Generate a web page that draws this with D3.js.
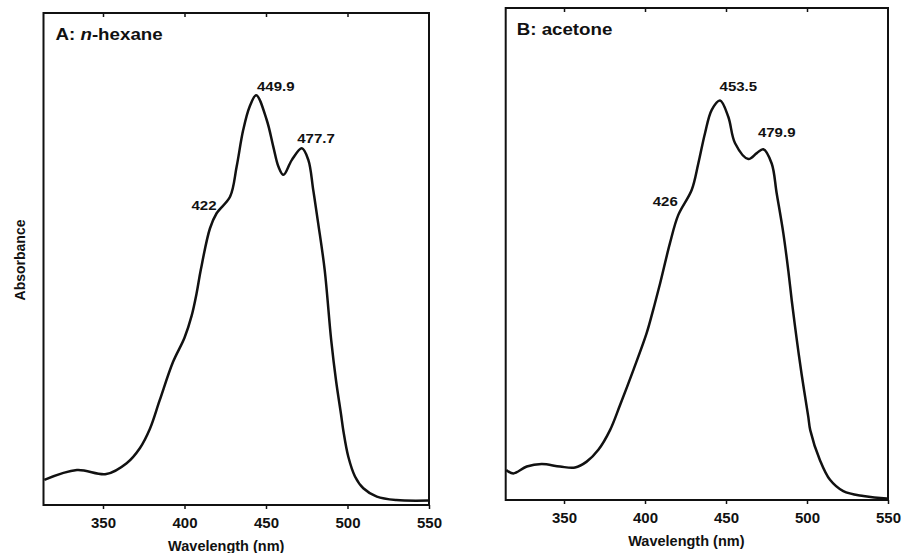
<!DOCTYPE html>
<html>
<head>
<meta charset="utf-8">
<script src="https://cdn.jsdelivr.net/npm/d3@7"></script>
<style>
	body { margin: 0; background: #fff; }
	svg { display: block; }
	text { font-family: "Liberation Sans", Arial, Helvetica, sans-serif; fill: #111; }
</style>
</head>
<body>
<svg id="chart" width="906" height="553"></svg>
<script>

// A: n-hexane
var wlA = [314, 334, 352, 364.5, 372.7, 378.8, 384.8, 393, 400, 404.4, 407.4, 410, 415.6, 419.7, 428, 432, 436, 440, 444,
	450.4, 454.5, 457.6, 460.7, 465.8, 472, 476, 479, 482, 486, 490, 493, 496, 497.5, 500.5, 504.6, 509.7, 518, 530, 550];
var absA = [0.051, 0.071, 0.063, 0.085, 0.116, 0.155, 0.213, 0.291, 0.340, 0.385, 0.430, 0.478, 0.562, 0.593, 0.627, 0.688, 0.762, 0.810, 0.833,
	0.783, 0.728, 0.688, 0.671, 0.701, 0.725, 0.701, 0.640, 0.573, 0.478, 0.335, 0.252, 0.185, 0.150, 0.098, 0.058, 0.034, 0.017, 0.010, 0.009];

// B: acetone
var wlB = [314.3, 318.7, 327, 336.2, 347.5, 356.8, 364, 371.2, 378.4, 384.6, 392.8, 401, 405, 409.3, 415.4, 420.5, 428.8, 432.9, 437, 441.2, 446.3,
	451.4, 455.6, 463.8, 469, 473, 478.2, 481.3, 485.4, 488.5, 490.6, 493.6, 496.7, 500.8, 502, 508, 514.2, 522.4, 534.8, 549.2, 550];
var absB = [0.061, 0.054, 0.068, 0.073, 0.068, 0.066, 0.078, 0.102, 0.142, 0.193, 0.264, 0.339, 0.386, 0.440, 0.522, 0.579, 0.630, 0.684, 0.745, 0.793, 0.812,
	0.779, 0.725, 0.693, 0.705, 0.713, 0.684, 0.623, 0.542, 0.465, 0.405, 0.328, 0.255, 0.169, 0.142, 0.081, 0.041, 0.018, 0.008, 0.003, 0.003];

// peak labels (text, wavelength, absorbance of the label anchor)
var peakTextA = ['422', '449.9', '477.7'];
var peakWlA = [412, 456, 480.7];
var peakAbsA = [0.600, 0.842, 0.736];

var peakTextB = ['426', '453.5', '479.9'];
var peakWlB = [412.5, 457.6, 481.3];
var peakAbsB = [0.597, 0.832, 0.737];

var xTicks = [350, 400, 450, 500, 550];

var svg = d3.select('#chart');

// stretch text a little, the scanned lettering is wider than Arial
function widen(t, k) {
	var w = t.node().getComputedTextLength();
	t.attr('textLength', w * k).attr('lengthAdjust', 'spacingAndGlyphs');
	return t;
}

function drawPanel(p) {

	var x = d3.scaleLinear().domain([p.x0, 550]).range([p.left, p.right]);
	var y = d3.scaleLinear().domain([0, 1]).range([p.bottom, p.top]);

	var g = svg.append('g');

	// ticks on top, pointing in
	g.append('g')
		.attr('transform', 'translate(0,' + p.top + ')')
		.call(d3.axisTop(x).tickValues(xTicks.slice(0, 4)).tickSize(-4).tickSizeOuter(0).tickFormat(''))
		.call(function(a) { a.select('.domain').remove(); })
		.selectAll('line').attr('stroke', '#111').attr('stroke-width', 1.5);

	// bottom axis
	var ax = g.append('g')
		.attr('transform', 'translate(0,' + p.bottom + ')')
		.call(d3.axisBottom(x).tickValues(xTicks).tickSize(4).tickSizeOuter(0).tickPadding(p.pad));
	ax.select('.domain').remove();
	ax.selectAll('line').attr('stroke', '#111').attr('stroke-width', 1.5);
	ax.selectAll('text')
		.style('font-family', '"Liberation Sans", Arial, sans-serif')
		.style('font-size', '15px')
		.style('font-weight', 'bold')
		.attr('fill', '#111');

	// frame
	g.append('rect')
		.attr('x', p.left)
		.attr('y', p.top)
		.attr('width', p.right - p.left)
		.attr('height', p.bottom - p.top)
		.style('fill', 'none')
		.attr('stroke', '#111')
		.attr('stroke-width', 2);

	// spectrum
	var line = d3.line()
		.x(function(d) { return x(d[0]); })
		.y(function(d) { return y(d[1]); })
		.curve(d3.curveCatmullRom.alpha(0.5));

	g.append('path')
		.datum(d3.zip(p.wl, p.abs))
		.attr('d', line)
		.style('fill', 'none')
		.attr('stroke', '#111')
		.attr('stroke-width', 2.5)
		.attr('stroke-linejoin', 'round');

	// peak labels
	p.peakText.forEach(function(s, i) {
		var t = g.append('text')
			.attr('x', x(p.peakWl[i]))
			.attr('y', y(p.peakAbs[i]))
			.attr('text-anchor', 'middle')
			.style('font-size', '12.5px')
			.style('font-weight', 'bold')
			.text(s);
		widen(t, 1.2);
	});

	// panel title
	var title = g.append('text')
		.attr('x', p.left + p.titleDx)
		.attr('y', p.top + p.titleDy)
		.style('font-size', '16px')
		.style('font-weight', 'bold');
	p.title(title);
	widen(title, p.titleK);

	// x axis title
	g.append('text')
		.attr('x', (p.left + p.right) / 2 + p.xtDx)
		.attr('y', p.xtY)
		.attr('text-anchor', 'middle')
		.style('font-size', '14.5px')
		.style('font-weight', 'bold')
		.text('Wavelength (nm)');
}

drawPanel({
	x0: 313.5, left: 43.5, right: 429, top: 13, bottom: 505, pad: 8,
	wl: wlA, abs: absA,
	peakText: peakTextA, peakWl: peakWlA, peakAbs: peakAbsA,
	titleDx: 12, titleDy: 27, titleK: 1.17,
	title: function(t) {
		t.append('tspan').text('A: ');
		t.append('tspan').style('font-style', 'italic').text('n');
		t.append('tspan').text('-hexane');
	},
	xtDx: -10, xtY: 551
});

drawPanel({
	x0: 314, left: 505.7, right: 888, top: 8, bottom: 500, pad: 8,
	wl: wlB, abs: absB,
	peakText: peakTextB, peakWl: peakWlB, peakAbs: peakAbsB,
	titleDx: 11, titleDy: 27, titleK: 1.17,
	title: function(t) {
		t.text('B: acetone');
	},
	xtDx: -10.5, xtY: 546
});

// y axis title
svg.append('text')
	.attr('transform', 'translate(25,260) rotate(-90)')
	.attr('text-anchor', 'middle')
	.style('font-size', '14px')
	.style('font-weight', 'bold')
	.text('Absorbance');

</script>
</body>
</html>
